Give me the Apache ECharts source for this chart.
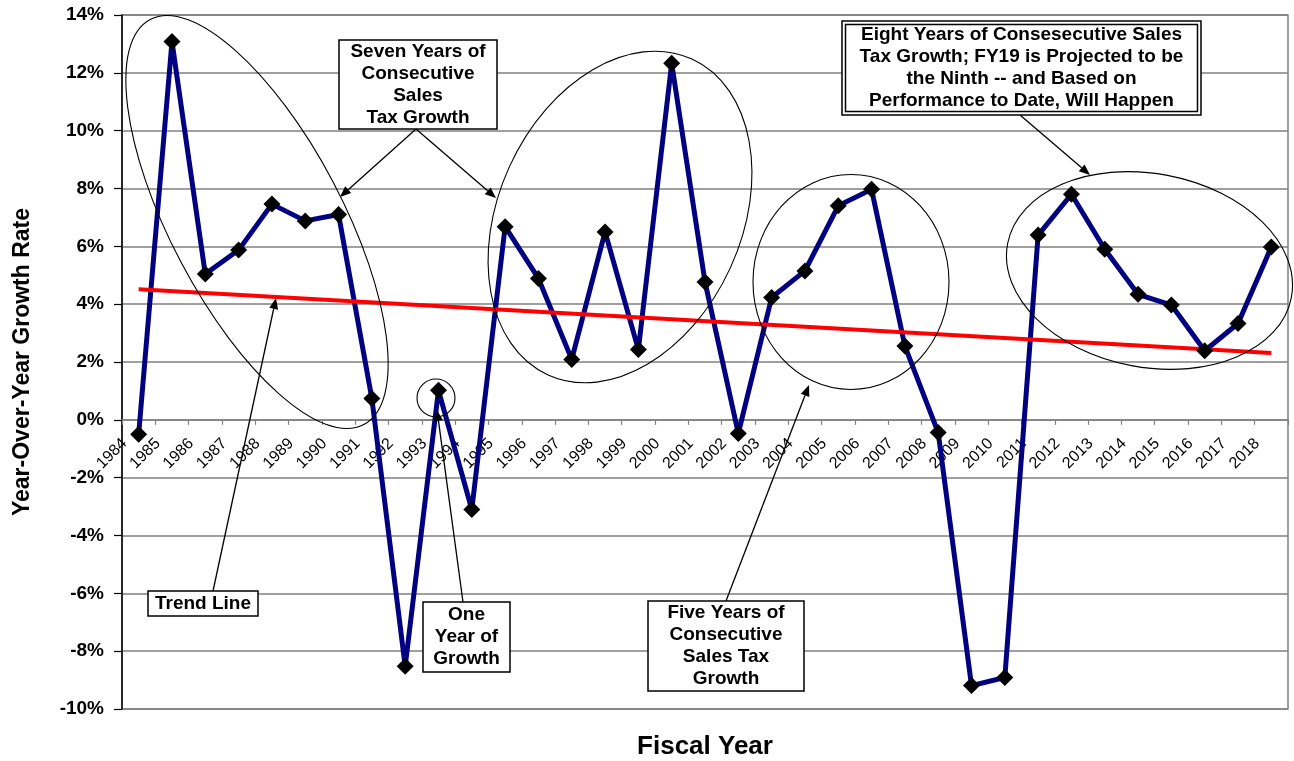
<!DOCTYPE html>
<html><head><meta charset="utf-8">
<script src="https://cdn.jsdelivr.net/npm/echarts@6/dist/echarts.min.js"></script>
<style>html,body{margin:0;padding:0;background:#fff}#c{width:1294px;height:761px}</style>
</head><body><div id="c"></div>
<script>
// ---- data ----
const categories = ['1984','1985','1986','1987','1988','1989','1990','1991','1992','1993','1994','1995','1996','1997','1998','1999','2000','2001','2002','2003','2004','2005','2006','2007','2008','2009','2010','2011','2012','2013','2014','2015','2016','2017','2018'];
const growthRate = [-0.5,13.08,5.04,5.87,7.46,6.88,7.10,0.74,-8.52,1.02,-3.10,6.68,4.89,2.09,6.50,2.43,12.33,4.77,-0.47,4.23,5.15,7.40,7.97,2.55,-0.44,-9.19,-8.91,6.39,7.80,5.90,4.34,3.97,2.39,3.33,5.98];
const trendCategories = ['1984','2018'];
const trendValues = [4.52, 2.31];
const yMin = -10, yMax = 14, yStep = 2;

// ---- layout ----
const FONT = '"Liberation Sans", Arial, Helvetica, sans-serif';
const W = 1294, H = 761;
const gridL = 122, gridR = 6, gridT = 15, gridB = 52;
const plotH = H - gridT - gridB;
const zeroOffset = -plotH * (0 - yMin) / (yMax - yMin); // move category axis up to the 0% line

const boxes = [
  {x:339, y:40, w:158, h:89, text:'Seven Years of\nConsecutive\nSales\nTax Growth'},
  {x:842, y:21, w:359, h:94, text:'Eight Years of Consesecutive Sales\nTax Growth; FY19 is Projected to be\nthe Ninth -- and Based on\nPerformance to Date, Will Happen', double:true},
  {x:148, y:591, w:110, h:25, text:'Trend Line'},
  {x:423, y:602, w:87, h:70, text:'One\nYear of\nGrowth'},
  {x:648, y:601, w:156, h:90, text:'Five Years of\nConsecutive\nSales Tax\nGrowth'}
];
const arrows = [
  [416,129,340,197],[416,129,496,198],[1020,115,1090,175],
  [213,591,276,298],[463,602,437,410],[726,601,809,385]
];
const ellipses = [
  {cx:257, cy:222, rx:229, ry:86, rot:-62.2},
  {cx:620, cy:217, rx:173.5, ry:121.5, rot:65.5},
  {cx:851, cy:282, rx:98, ry:107.5, rot:0},
  {cx:1149.5, cy:270.5, rx:144.4, ry:96.8, rot:-10.7},
  {cx:436, cy:398, rx:19, ry:19, rot:0}
];

const g = [];
ellipses.forEach(e => g.push({type:'ellipse', x:e.cx, y:e.cy, rotation:e.rot*Math.PI/180,
  shape:{cx:0, cy:0, rx:e.rx, ry:e.ry}, style:{fill:'none', stroke:'#000', lineWidth:1.1}, z:15}));
arrows.forEach(a => {
  const [x1,y1,x2,y2] = a;
  const ang = Math.atan2(y2-y1, x2-x1), L = 11, Wd = 4.5;
  const bx = x2 - L*Math.cos(ang), by = y2 - L*Math.sin(ang);
  const px = -Math.sin(ang)*Wd, py = Math.cos(ang)*Wd;
  g.push({type:'line', shape:{x1, y1, x2:bx, y2:by}, style:{stroke:'#000', lineWidth:1.3}, z:20});
  g.push({type:'polygon', shape:{points:[[x2,y2],[bx+px,by+py],[bx-px,by-py]]}, style:{fill:'#000'}, z:20});
});
boxes.forEach(b => {
  g.push({type:'rect', shape:{x:b.x, y:b.y, width:b.w, height:b.h}, style:{fill:'#fff', stroke:'#000', lineWidth:1.5}, z:25});
  if (b.double) g.push({type:'rect', shape:{x:b.x+3.5, y:b.y+3.5, width:b.w-7, height:b.h-7}, style:{fill:'#fff', stroke:'#000', lineWidth:1.5}, z:26});
  g.push({type:'rect', shape:{x:b.x, y:b.y, width:b.w, height:b.h}, style:{fill:'none', stroke:'none'}, z:27,
    textContent:{style:{text:b.text, font:'bold 19px ' + FONT, fill:'#000', align:'center', verticalAlign:'middle', lineHeight:22}, z:28},
    textConfig:{position:'inside'}});
});
g.push({type:'rect', shape:{x:555, y:732, width:300, height:30}, style:{fill:'none', stroke:'none'}, z:27,
  textContent:{style:{text:'Fiscal Year', font:'bold 26px ' + FONT, fill:'#000', align:'center', verticalAlign:'middle'}},
  textConfig:{position:'inside'}});

const chart = echarts.init(document.getElementById('c'), null, {renderer:'canvas'});
chart.setOption({
  animation:false,
  backgroundColor:'#fff',
  grid:{left:gridL, right:gridR, top:gridT, bottom:gridB, show:true, borderColor:'#808080', borderWidth:1.5},
  xAxis:{type:'category', data:categories, boundaryGap:true, position:'bottom', offset:zeroOffset,
    axisLine:{onZero:false, lineStyle:{color:'#808080', width:1.5}},
    axisTick:{show:true, interval:0, length:5, lineStyle:{color:'#808080', width:1.2}},
    axisLabel:{interval:0, rotate:45, margin:7, padding:[0,20,0,0], fontSize:16, fontFamily:FONT, color:'#000'},
    splitLine:{show:false}},
  yAxis:{type:'value', min:yMin, max:yMax, interval:yStep,
    axisLine:{show:true, lineStyle:{color:'#000', width:1.5}},
    axisTick:{show:true, length:8, lineStyle:{color:'#000', width:1.2}},
    axisLabel:{formatter:'{value}%', fontSize:19, fontWeight:'bold', fontFamily:FONT, color:'#000', margin:18},
    splitLine:{lineStyle:{color:'#808080', width:1.5}},
    name:'Year-Over-Year Growth Rate', nameLocation:'middle', nameRotate:90, nameGap:88,
    nameTextStyle:{fontSize:23, fontWeight:'bold', fontFamily:FONT, color:'#000'}},
  series:[
    {type:'line', data:growthRate, symbol:'none', lineStyle:{color:'#000080', width:5}, z:2},
    {type:'line', data:trendCategories.map((c,i)=>[c, trendValues[i]]), symbol:'none', lineStyle:{color:'#ff0000', width:4}, z:3},
    {type:'scatter', data:growthRate, symbol:'diamond', symbolSize:17, itemStyle:{color:'#000', opacity:1}, z:4}
  ],
  graphic:{elements:g}
});
</script></body></html>
